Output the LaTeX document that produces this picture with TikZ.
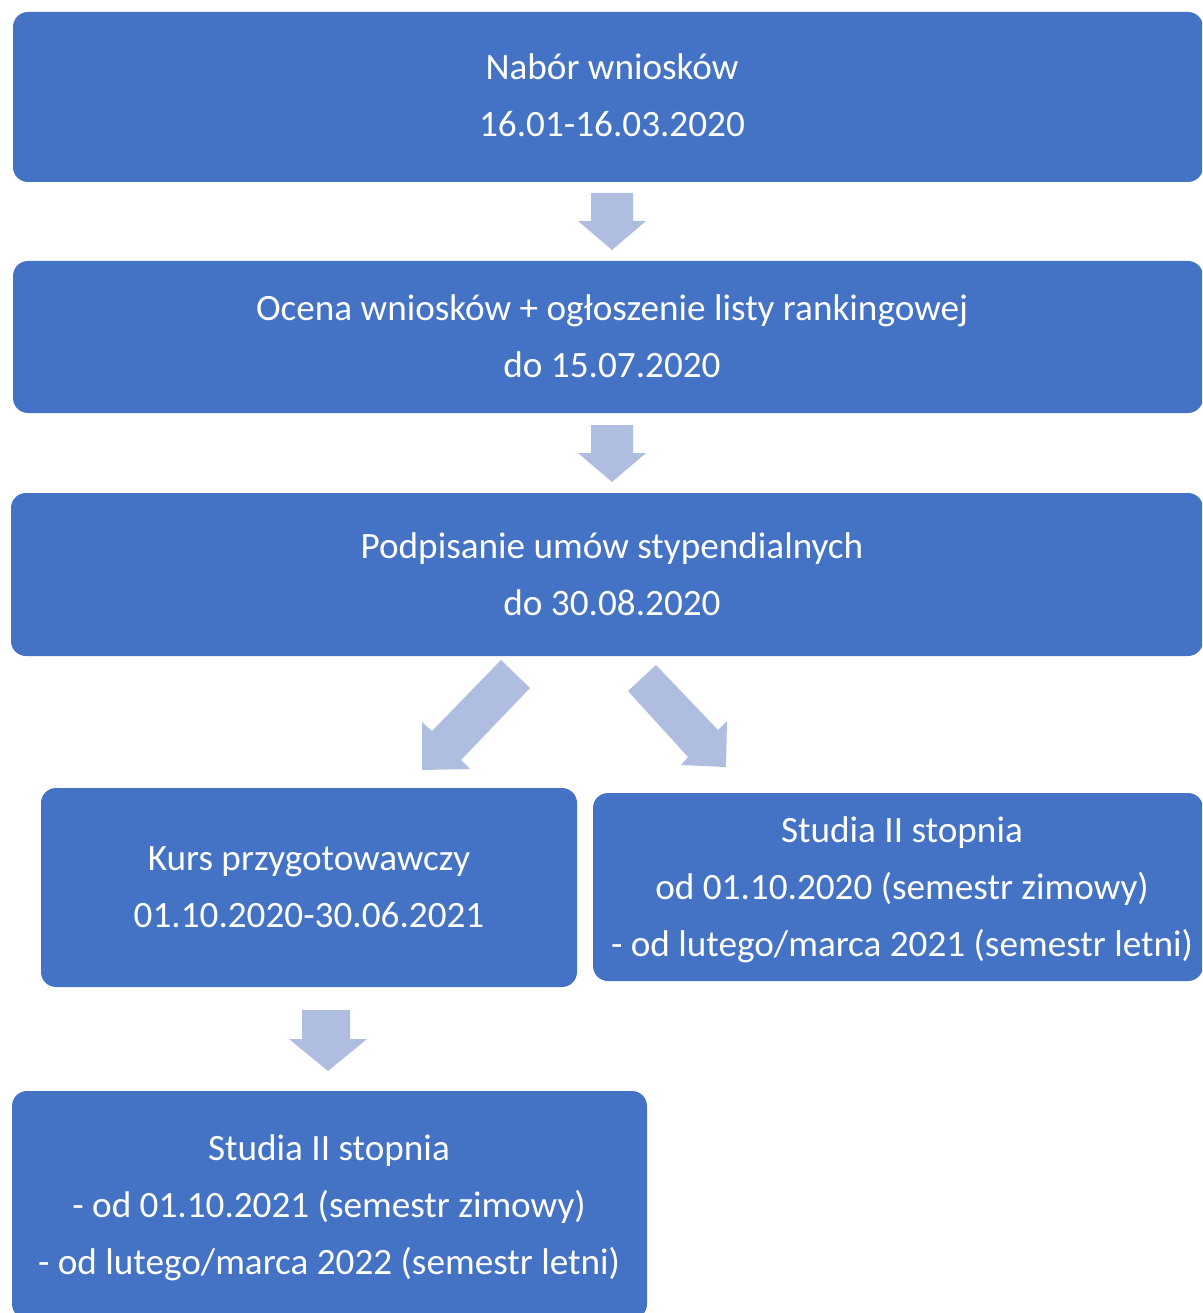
\documentclass[tikz,border=0pt]{standalone}
\usepackage{fontspec}
\setmainfont{Carlito}
\definecolor{boxblue}{HTML}{4472C4}
\definecolor{arrowblue}{HTML}{AFBDE0}
\begin{document}
\begin{tikzpicture}[x=1pt,y=-1pt,
  box/.style={fill=boxblue, draw=none, rounded corners=15pt, inner sep=0pt},
  boxtext/.style={inner sep=0pt, text=white, align=center, font=\fontsize{37.2}{57}\selectfont},
  blockarrow/.style={fill=arrowblue, draw=none}]
\useasboundingbox (0,0) rectangle (1202,1313);
\clip (0,0) rectangle (1202,1313);
\node[box, minimum width=1190pt, minimum height=170pt] (b1) at (608,97) {};
\node[boxtext] (t1) at (612,95.5) {Nabór wniosków\\16.01-16.03.2020};
\node[box, minimum width=1190pt, minimum height=152pt] (b2) at (608,337) {};
\node[boxtext] (t2) at (612,336) {Ocena wniosków + ogłoszenie listy rankingowej\\do 15.07.2020};
\node[box, minimum width=1192pt, minimum height=163pt] (b3) at (607,574.5) {};
\node[boxtext] (t3) at (612,574) {Podpisanie umów stypendialnych\\do 30.08.2020};
\node[box, minimum width=536pt, minimum height=199pt] (b4) at (309,887.5) {};
\node[boxtext] (t4) at (309,887) {Kurs przygotowawczy\\01.10.2020-30.06.2021};
\node[box, minimum width=610pt, minimum height=188pt] (b5) at (898,887) {};
\node[boxtext] (t5) at (902,889.5) {Studia II stopnia\\od 01.10.2020 (semestr zimowy)\\- od lutego/marca 2021 (semestr letni)};
\node[box, minimum width=635pt, minimum height=228pt] (b6) at (329.5,1205) {};
\node[boxtext] (t6) at (329,1207.5) {Studia II stopnia\\- od 01.10.2021 (semestr zimowy)\\- od lutego/marca 2022 (semestr letni)};
% block arrows
\fill[blockarrow] (591,193) -- (633,193) -- (633,221) -- (646,221) -- (612,250) -- (578,221) -- (591,221) -- cycle;
\fill[blockarrow] (591,425) -- (633,425) -- (633,453) -- (646,453) -- (612,482) -- (578,453) -- (591,453) -- cycle;
\fill[blockarrow] (501,660) -- (530,688) -- (461,760) -- (470,769) -- (422,770) -- (422,722) -- (432,731) -- cycle;
\fill[blockarrow] (628,691) -- (656,665) -- (718,730) -- (727,721) -- (726,767) -- (681,765) -- (688,757) -- cycle;
\fill[blockarrow] (302,1010) -- (350,1010) -- (350,1039) -- (367,1039) -- (328,1071) -- (289,1039) -- (302,1039) -- cycle;
\end{tikzpicture}
\end{document}
